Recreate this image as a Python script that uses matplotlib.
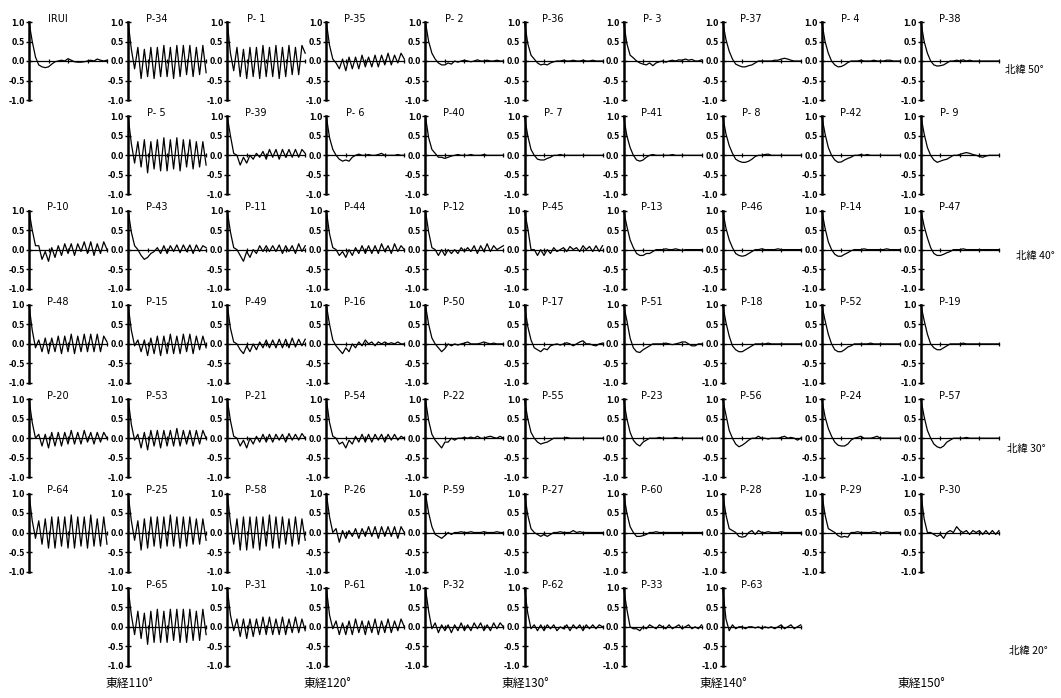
import matplotlib
matplotlib.use("Agg")
import matplotlib.pyplot as plt

#
# Autocorrelation values, lag 0..24
#
lags = list(range(25))

row0_first = 0
row0_labels = ["IRUI", "P-34", "P- 1", "P-35", "P- 2", "P-36", "P- 3", "P-37", "P- 4", "P-38"]
row0_acf = [
    [1.0, 0.5, 0.1, -0.1, -0.15, -0.17, -0.15, -0.08, -0.02, 0.0, 0.02, 0.0, 0.06, 0.02, -0.02, -0.03, -0.03, -0.02, 0.0, 0.02, 0.0, 0.05, 0.02, 0.0, 0.02],
    [1.0, 0.3, -0.2, 0.35, -0.45, 0.3, -0.4, 0.35, -0.45, 0.35, -0.4, 0.4, -0.4, 0.35, -0.45, 0.4, -0.4, 0.4, -0.35, 0.4, -0.4, 0.35, -0.35, 0.4, -0.3],
    [1.0, 0.2, -0.25, 0.35, -0.4, 0.3, -0.45, 0.35, -0.4, 0.35, -0.45, 0.4, -0.4, 0.35, -0.4, 0.4, -0.45, 0.35, -0.4, 0.4, -0.35, 0.35, -0.35, 0.4, 0.2],
    [1.0, 0.4, 0.05, -0.05, -0.2, 0.05, -0.25, 0.1, -0.2, 0.1, -0.2, 0.15, -0.15, 0.1, -0.15, 0.15, -0.15, 0.15, -0.1, 0.2, -0.1, 0.15, -0.05, 0.2, 0.05],
    [1.0, 0.5, 0.2, 0.05, -0.05, -0.1, -0.1, -0.05, -0.08, 0.0, -0.03, 0.0, 0.02, 0.0, -0.02, 0.0, 0.03, 0.0, 0.0, 0.02, 0.0, 0.0, 0.02, 0.0, 0.0],
    [1.0, 0.45, 0.15, 0.05, -0.05, -0.1, -0.08, -0.1, -0.05, -0.02, 0.0, 0.0, 0.02, 0.0, 0.0, 0.02, 0.0, 0.0, 0.02, 0.0, 0.0, 0.02, 0.0, 0.0, 0.0],
    [1.0, 0.45, 0.15, 0.08, 0.0, -0.05, -0.08, -0.1, -0.05, -0.12, -0.05, -0.02, 0.0, -0.03, 0.0, 0.02, 0.0, 0.03, 0.02, 0.05, 0.02, 0.04, 0.0, 0.0, 0.03],
    [1.0, 0.55, 0.25, 0.05, -0.08, -0.12, -0.15, -0.15, -0.12, -0.1, -0.05, 0.0, 0.0, 0.0, 0.0, 0.0, 0.02, 0.02, 0.05, 0.07, 0.05, 0.02, 0.0, 0.0, 0.0],
    [1.0, 0.5, 0.2, 0.0, -0.1, -0.15, -0.14, -0.1, -0.04, 0.0, 0.0, 0.0, 0.02, 0.0, 0.0, 0.0, 0.02, 0.0, 0.0, 0.0, 0.02, 0.02, 0.0, 0.0, 0.0],
    [1.0, 0.5, 0.2, 0.0, -0.1, -0.13, -0.12, -0.1, -0.05, 0.0, 0.0, 0.02, 0.0, 0.03, 0.0, 0.02, 0.0, 0.0, 0.0, 0.0, 0.0, 0.0, 0.0, 0.0, 0.0],
]

row1_first = 1
row1_labels = ["P- 5", "P-39", "P- 6", "P-40", "P- 7", "P-41", "P- 8", "P-42", "P- 9"]
row1_acf = [
    [1.0, 0.3, -0.2, 0.35, -0.3, 0.4, -0.45, 0.35, -0.35, 0.4, -0.4, 0.45, -0.4, 0.4, -0.35, 0.45, -0.4, 0.4, -0.3, 0.4, -0.35, 0.35, -0.3, 0.35, -0.25],
    [1.0, 0.5, 0.05, 0.0, -0.25, -0.05, -0.2, 0.0, -0.1, 0.05, -0.05, 0.1, -0.1, 0.15, -0.05, 0.15, -0.1, 0.15, -0.05, 0.15, -0.05, 0.15, -0.05, 0.15, 0.05],
    [1.0, 0.45, 0.15, 0.0, -0.1, -0.15, -0.12, -0.15, -0.05, 0.0, 0.03, 0.0, 0.0, 0.02, 0.0, 0.0, 0.02, 0.05, 0.0, 0.0, 0.0, 0.0, 0.02, 0.0, 0.0],
    [1.0, 0.45, 0.15, 0.05, -0.05, -0.05, -0.08, -0.05, -0.02, 0.0, 0.02, 0.0, 0.0, 0.0, 0.02, 0.0, 0.0, 0.0, 0.02, 0.0, 0.0, 0.0, 0.0, 0.0, 0.0],
    [1.0, 0.5, 0.15, 0.0, -0.1, -0.12, -0.12, -0.08, -0.05, 0.0, 0.0, 0.02, 0.0, 0.0, 0.0, 0.0, 0.0, 0.0, 0.0, 0.0, 0.0, 0.0, 0.0, 0.0, 0.0],
    [1.0, 0.5, 0.2, 0.0, -0.12, -0.15, -0.12, -0.05, 0.0, 0.02, 0.0, 0.0, 0.0, 0.0, 0.0, 0.02, 0.0, 0.0, 0.0, 0.0, 0.0, 0.0, 0.0, 0.0, 0.0],
    [1.0, 0.55, 0.25, 0.05, -0.1, -0.15, -0.18, -0.18, -0.15, -0.1, -0.03, 0.0, 0.0, 0.02, 0.03, 0.0, 0.0, 0.0, 0.0, 0.0, 0.0, 0.0, 0.0, 0.0, 0.0],
    [1.0, 0.55, 0.2, 0.0, -0.12, -0.18, -0.17, -0.12, -0.08, -0.05, 0.0, 0.0, 0.02, 0.0, 0.02, 0.0, 0.0, 0.0, 0.0, 0.0, 0.0, 0.0, 0.0, 0.0, 0.0],
    [1.0, 0.55, 0.2, 0.0, -0.12, -0.18, -0.15, -0.12, -0.1, -0.05, 0.0, 0.0, 0.02, 0.05, 0.07, 0.05, 0.02, 0.0, -0.03, -0.05, -0.02, 0.0, 0.0, 0.0, 0.0],
]

row2_first = 0
row2_labels = ["P-10", "P-43", "P-11", "P-44", "P-12", "P-45", "P-13", "P-46", "P-14", "P-47"]
row2_acf = [
    [1.0, 0.5, 0.1, 0.1, -0.25, -0.05, -0.3, 0.05, -0.2, 0.1, -0.15, 0.15, -0.1, 0.15, -0.15, 0.15, -0.05, 0.2, -0.1, 0.2, -0.15, 0.15, -0.1, 0.2, 0.0],
    [1.0, 0.45, 0.1, 0.0, -0.15, -0.25, -0.2, -0.1, -0.05, 0.05, -0.1, 0.1, -0.1, 0.1, -0.05, 0.12, -0.08, 0.12, -0.05, 0.12, -0.1, 0.12, -0.05, 0.1, 0.05],
    [1.0, 0.45, 0.05, 0.0, -0.15, -0.3, -0.05, -0.2, 0.0, -0.1, 0.1, -0.05, 0.1, -0.05, 0.1, -0.05, 0.12, -0.1, 0.1, -0.05, 0.1, -0.1, 0.15, -0.05, 0.1],
    [1.0, 0.4, 0.05, 0.0, -0.15, -0.05, -0.2, 0.0, -0.15, 0.05, -0.1, 0.1, -0.1, 0.1, -0.1, 0.1, -0.1, 0.15, -0.05, 0.1, -0.1, 0.15, -0.05, 0.1, 0.0],
    [1.0, 0.45, 0.05, 0.0, -0.15, 0.0, -0.15, 0.0, -0.1, 0.0, -0.1, 0.05, -0.05, 0.05, -0.05, 0.1, -0.1, 0.1, -0.05, 0.15, -0.05, 0.1, 0.0, 0.05, 0.1],
    [1.0, 0.55, 0.0, 0.0, -0.15, 0.0, -0.15, 0.0, -0.1, 0.05, -0.05, 0.0, 0.05, -0.05, 0.08, 0.0, 0.05, -0.05, 0.1, 0.0, 0.08, -0.05, 0.1, -0.05, 0.1],
    [1.0, 0.6, 0.25, 0.05, -0.1, -0.15, -0.15, -0.1, -0.1, -0.05, 0.0, 0.0, 0.0, 0.02, 0.0, 0.0, 0.02, 0.0, -0.02, 0.0, 0.0, 0.0, 0.0, 0.0, 0.0],
    [1.0, 0.55, 0.25, 0.05, -0.1, -0.15, -0.17, -0.15, -0.1, -0.05, 0.0, 0.0, 0.02, 0.0, 0.0, 0.0, 0.0, 0.02, 0.0, 0.0, 0.0, 0.0, 0.0, 0.0, 0.0],
    [1.0, 0.55, 0.2, 0.0, -0.12, -0.17, -0.17, -0.12, -0.08, -0.03, 0.0, 0.0, 0.0, 0.02, 0.0, 0.0, 0.0, 0.0, 0.0, 0.0, 0.02, 0.0, 0.0, 0.0, 0.0],
    [1.0, 0.6, 0.3, 0.05, -0.1, -0.15, -0.15, -0.12, -0.08, -0.05, 0.0, 0.0, 0.0, 0.02, 0.0, 0.0, 0.0, 0.0, 0.0, 0.0, 0.0, 0.0, 0.0, 0.0, 0.0],
]

row3_first = 0
row3_labels = ["P-48", "P-15", "P-49", "P-16", "P-50", "P-17", "P-51", "P-18", "P-52", "P-19"]
row3_acf = [
    [1.0, 0.35, -0.1, 0.1, -0.2, 0.15, -0.25, 0.15, -0.2, 0.2, -0.25, 0.2, -0.2, 0.25, -0.25, 0.2, -0.2, 0.25, -0.2, 0.25, -0.2, 0.25, -0.2, 0.2, 0.05],
    [1.0, 0.35, -0.05, 0.1, -0.2, 0.1, -0.3, 0.15, -0.25, 0.2, -0.3, 0.2, -0.25, 0.25, -0.25, 0.2, -0.25, 0.25, -0.2, 0.25, -0.25, 0.2, -0.15, 0.2, -0.1],
    [1.0, 0.4, 0.05, 0.0, -0.15, -0.25, -0.05, -0.2, 0.0, -0.15, 0.05, -0.1, 0.1, -0.1, 0.1, -0.1, 0.12, -0.1, 0.12, -0.1, 0.15, -0.08, 0.12, -0.05, 0.12],
    [1.0, 0.5, 0.1, -0.05, -0.15, -0.25, -0.1, -0.2, 0.0, -0.1, 0.05, -0.05, 0.1, 0.0, 0.05, -0.05, 0.05, 0.0, 0.05, 0.0, 0.03, 0.0, 0.05, 0.0, 0.0],
    [1.0, 0.5, 0.15, 0.0, -0.1, -0.2, -0.12, 0.0, -0.05, 0.0, -0.03, 0.0, 0.02, 0.05, 0.0, 0.0, 0.0, 0.02, 0.05, 0.02, 0.0, 0.02, 0.0, 0.0, 0.0],
    [1.0, 0.45, 0.1, -0.1, -0.15, -0.2, -0.12, -0.15, -0.05, -0.02, 0.0, -0.03, 0.0, 0.03, 0.0, -0.05, 0.0, 0.05, 0.08, 0.0, 0.0, -0.03, -0.05, 0.0, 0.02],
    [1.0, 0.6, 0.15, -0.1, -0.2, -0.22, -0.15, -0.1, -0.05, 0.0, 0.0, 0.0, 0.0, 0.02, 0.0, -0.02, 0.0, 0.02, 0.05, 0.05, 0.0, -0.05, -0.05, 0.0, 0.0],
    [1.0, 0.55, 0.2, -0.05, -0.15, -0.2, -0.2, -0.15, -0.1, -0.05, 0.0, 0.0, 0.0, 0.0, 0.02, 0.0, 0.0, 0.0, 0.0, 0.0, 0.0, 0.0, 0.0, 0.0, 0.0],
    [1.0, 0.6, 0.25, 0.0, -0.15, -0.2, -0.2, -0.15, -0.08, -0.05, 0.0, 0.0, 0.0, 0.0, 0.0, 0.02, 0.0, 0.0, 0.0, 0.0, 0.0, 0.0, 0.0, 0.0, 0.0],
    [1.0, 0.6, 0.25, 0.0, -0.1, -0.15, -0.15, -0.1, -0.05, 0.0, 0.0, 0.0, 0.0, 0.02, 0.0, 0.0, 0.0, 0.0, 0.0, 0.0, 0.0, 0.0, 0.0, 0.0, 0.0],
]

row4_first = 0
row4_labels = ["P-20", "P-53", "P-21", "P-54", "P-22", "P-55", "P-23", "P-56", "P-24", "P-57"]
row4_acf = [
    [1.0, 0.4, 0.0, 0.1, -0.2, 0.1, -0.25, 0.15, -0.2, 0.15, -0.2, 0.15, -0.15, 0.2, -0.15, 0.15, -0.15, 0.2, -0.1, 0.15, -0.15, 0.15, -0.1, 0.15, 0.0],
    [1.0, 0.35, -0.05, 0.1, -0.25, 0.15, -0.3, 0.2, -0.2, 0.2, -0.25, 0.2, -0.2, 0.2, -0.2, 0.25, -0.2, 0.2, -0.15, 0.2, -0.2, 0.2, -0.15, 0.2, 0.0],
    [1.0, 0.45, 0.05, 0.0, -0.2, -0.05, -0.25, 0.0, -0.15, 0.05, -0.1, 0.1, -0.1, 0.1, -0.1, 0.1, -0.05, 0.1, -0.1, 0.12, -0.05, 0.1, -0.05, 0.12, 0.0],
    [1.0, 0.4, 0.05, 0.0, -0.15, -0.1, -0.25, -0.05, -0.15, 0.05, -0.1, 0.1, -0.1, 0.1, -0.1, 0.1, -0.05, 0.1, -0.1, 0.1, -0.05, 0.1, -0.05, 0.05, 0.0],
    [1.0, 0.45, 0.1, -0.05, -0.15, -0.25, -0.1, -0.1, 0.0, -0.05, 0.0, 0.0, 0.02, 0.0, 0.03, 0.0, 0.05, 0.0, 0.0, 0.03, 0.05, 0.02, 0.0, 0.05, 0.0],
    [1.0, 0.5, 0.15, 0.0, -0.1, -0.15, -0.12, -0.1, -0.05, 0.0, 0.0, 0.0, 0.0, 0.02, 0.0, 0.0, 0.0, 0.0, 0.0, 0.0, 0.0, 0.0, 0.0, 0.0, 0.0],
    [1.0, 0.5, 0.15, -0.05, -0.15, -0.2, -0.1, -0.05, 0.0, 0.0, 0.0, 0.02, 0.0, 0.0, 0.0, 0.0, 0.02, 0.0, 0.0, 0.0, 0.0, 0.0, 0.0, 0.0, 0.0],
    [1.0, 0.6, 0.2, 0.0, -0.15, -0.22, -0.18, -0.12, -0.05, 0.0, 0.0, 0.05, 0.0, 0.0, -0.02, 0.0, 0.0, 0.0, 0.02, 0.05, 0.0, 0.02, 0.0, -0.05, 0.0],
    [1.0, 0.55, 0.25, 0.05, -0.1, -0.18, -0.2, -0.2, -0.15, -0.05, 0.0, 0.02, 0.05, 0.0, 0.0, 0.0, 0.02, 0.05, 0.0, 0.0, 0.0, 0.0, 0.0, 0.0, 0.0],
    [1.0, 0.55, 0.2, 0.0, -0.15, -0.22, -0.25, -0.2, -0.1, -0.05, 0.0, 0.0, 0.0, 0.0, 0.02, 0.0, 0.0, 0.0, 0.0, 0.0, 0.0, 0.0, 0.0, 0.0, 0.0],
]

row5_first = 0
row5_labels = ["P-64", "P-25", "P-58", "P-26", "P-59", "P-27", "P-60", "P-28", "P-29", "P-30"]
row5_acf = [
    [1.0, 0.3, -0.15, 0.3, -0.3, 0.35, -0.4, 0.4, -0.4, 0.4, -0.35, 0.4, -0.4, 0.45, -0.4, 0.4, -0.35, 0.4, -0.4, 0.45, -0.35, 0.35, -0.35, 0.4, -0.3],
    [1.0, 0.3, -0.2, 0.3, -0.45, 0.35, -0.4, 0.4, -0.35, 0.4, -0.4, 0.4, -0.35, 0.45, -0.35, 0.4, -0.4, 0.4, -0.35, 0.4, -0.3, 0.35, -0.3, 0.35, -0.2],
    [1.0, 0.25, -0.3, 0.35, -0.45, 0.4, -0.45, 0.4, -0.4, 0.4, -0.45, 0.4, -0.35, 0.45, -0.4, 0.4, -0.4, 0.4, -0.3, 0.35, -0.35, 0.4, -0.3, 0.35, -0.2],
    [1.0, 0.4, 0.0, 0.1, -0.25, 0.05, -0.15, 0.05, -0.1, 0.1, -0.15, 0.1, -0.1, 0.15, -0.1, 0.15, -0.15, 0.15, -0.1, 0.15, -0.1, 0.15, -0.15, 0.15, 0.0],
    [1.0, 0.5, 0.15, -0.05, -0.1, -0.15, -0.08, 0.0, -0.05, 0.0, 0.0, 0.02, 0.0, 0.0, 0.02, 0.0, 0.0, 0.0, 0.02, 0.0, 0.0, 0.0, 0.02, 0.0, 0.0],
    [1.0, 0.45, 0.1, 0.0, -0.05, -0.1, -0.05, -0.1, -0.05, 0.0, 0.0, 0.02, 0.0, 0.0, 0.0, 0.05, 0.0, 0.02, 0.0, 0.0, 0.0, 0.0, 0.0, 0.0, 0.0],
    [1.0, 0.5, 0.15, 0.0, -0.1, -0.1, -0.08, -0.05, 0.0, 0.0, 0.02, 0.0, 0.0, 0.0, 0.0, 0.0, 0.0, 0.0, 0.0, 0.0, 0.0, 0.0, 0.0, 0.0, 0.0],
    [1.0, 0.45, 0.1, 0.05, 0.0, -0.1, -0.12, -0.1, 0.0, 0.05, -0.05, 0.05, 0.0, 0.0, 0.02, 0.0, 0.0, 0.0, 0.02, 0.0, 0.0, 0.0, 0.0, 0.0, 0.0],
    [1.0, 0.45, 0.1, 0.05, 0.0, -0.08, -0.12, -0.1, -0.12, 0.0, 0.0, 0.02, 0.0, 0.0, 0.0, 0.0, 0.02, 0.0, -0.02, 0.0, 0.02, 0.0, 0.0, 0.0, 0.0],
    [1.0, 0.35, 0.0, 0.0, -0.05, -0.1, -0.05, -0.15, 0.0, 0.05, 0.0, 0.15, 0.05, 0.0, 0.05, -0.05, 0.05, 0.0, 0.05, -0.05, 0.05, -0.05, 0.05, -0.05, 0.05],
]

row6_first = 1
row6_labels = ["P-65", "P-31", "P-61", "P-32", "P-62", "P-33", "P-63"]
row6_acf = [
    [1.0, 0.3, -0.2, 0.4, -0.3, 0.35, -0.45, 0.4, -0.4, 0.45, -0.4, 0.4, -0.4, 0.45, -0.35, 0.45, -0.4, 0.45, -0.4, 0.45, -0.35, 0.4, -0.35, 0.45, -0.2],
    [1.0, 0.3, -0.1, 0.2, -0.25, 0.2, -0.3, 0.2, -0.25, 0.2, -0.2, 0.25, -0.2, 0.25, -0.2, 0.2, -0.2, 0.25, -0.2, 0.2, -0.15, 0.25, -0.15, 0.2, -0.1],
    [1.0, 0.3, -0.05, 0.15, -0.2, 0.1, -0.2, 0.15, -0.2, 0.2, -0.15, 0.15, -0.2, 0.15, -0.15, 0.2, -0.2, 0.15, -0.15, 0.2, -0.15, 0.15, -0.1, 0.2, 0.0],
    [1.0, 0.4, -0.05, 0.1, -0.15, 0.05, -0.1, 0.05, -0.15, 0.05, -0.1, 0.1, -0.1, 0.05, -0.1, 0.1, -0.05, 0.1, -0.1, 0.05, -0.1, 0.1, -0.05, 0.1, 0.0],
    [1.0, 0.35, -0.05, 0.05, -0.1, 0.05, -0.1, 0.05, -0.05, 0.05, -0.1, 0.0, -0.05, 0.05, -0.1, 0.05, -0.05, 0.05, -0.1, 0.05, -0.05, 0.05, -0.05, 0.05, 0.0],
    [1.0, 0.45, 0.0, -0.05, -0.05, -0.1, 0.0, -0.05, 0.05, 0.0, -0.05, 0.05, 0.0, -0.05, 0.05, -0.05, 0.0, 0.05, -0.05, 0.0, 0.05, -0.05, 0.0, -0.05, 0.05],
    [1.0, 0.2, -0.1, 0.05, -0.05, 0.0, 0.0, -0.05, 0.0, 0.0, -0.03, 0.0, -0.05, 0.0, -0.03, 0.0, -0.05, 0.0, 0.05, -0.05, 0.0, 0.05, -0.05, 0.0, 0.05],
]

lat_labels = ["北緯 50°", "北緯 40°", "北緯 30°", "北緯 20°"]
lon_labels = ["東経110°", "東経120°", "東経130°", "東経140°", "東経150°"]

rows = [
    (row0_first, row0_labels, row0_acf),
    (row1_first, row1_labels, row1_acf),
    (row2_first, row2_labels, row2_acf),
    (row3_first, row3_labels, row3_acf),
    (row4_first, row4_labels, row4_acf),
    (row5_first, row5_labels, row5_acf),
    (row6_first, row6_labels, row6_acf),
]

#
# Layout (pixels)
#
W, H = 1061, 698
col_x0, col_dx = 29, 99.1       # left edge (lag 0) of each panel
row_y0, row_dy = 61, 94.3       # pixel y of the zero line
pw, ph = 78, 78

# placement of the latitude labels (x, y in pixels)
lat_xy = [(1005, 70), (1016, 256), (1007, 449), (1009, 651)]

jp = ['Noto Sans CJK JP', 'DejaVu Sans']

fig = plt.figure(figsize=(W / 100, H / 100), dpi=100)
fig.patch.set_facecolor('white')

for i, (first, labels, acfs) in enumerate(rows):
    yc = row_y0 + row_dy * i
    for k, (lab, acf) in enumerate(zip(labels, acfs)):
        j = first + k
        x = col_x0 + col_dx * j
        ax = fig.add_axes([x / W, (H - yc - ph / 2) / H, pw / W, ph / H])
        ax.plot(lags, acf, color='black', lw=0.9, clip_on=False)
        ax.set_xlim(0, 24)
        ax.set_ylim(-1, 1)
        ax.spines['top'].set_visible(False)
        ax.spines['right'].set_visible(False)
        ax.spines['bottom'].set_position(('data', 0))
        ax.spines['bottom'].set_linewidth(0.9)
        ax.spines['left'].set_linewidth(1.8)
        ax.set_xticks([6, 12, 18, 24])
        ax.set_xticklabels([])
        ax.set_yticks([-1, -0.5, 0, 0.5, 1])
        ax.set_yticklabels(["-1.0", "-0.5", "0.0", "0.5", "1.0"])
        ax.tick_params(axis='x', direction='inout', length=3, width=0.9)
        ax.tick_params(axis='y', direction='inout', length=4, width=1.0,
                       labelsize=5.5, pad=1)
        for t in ax.get_yticklabels():
            t.set_fontweight('bold')
        ax.set_facecolor('none')
        ax.text(8.8, 1.08, lab, ha='center', va='center', fontsize=7)

# latitude labels on the right
for lab, (px, py) in zip(lat_labels, lat_xy):
    fig.text(px / W, 1 - py / H, lab, ha='left', va='center',
             fontsize=7.5, family=jp)

# longitude labels at the bottom
for n, lab in enumerate(lon_labels):
    x = col_x0 + col_dx * (2 * n + 1) - 23
    fig.text(x / W, 1 - 684 / H, lab, ha='left', va='center',
             fontsize=8.5, family=jp)

plt.savefig("out.png", dpi=100)
